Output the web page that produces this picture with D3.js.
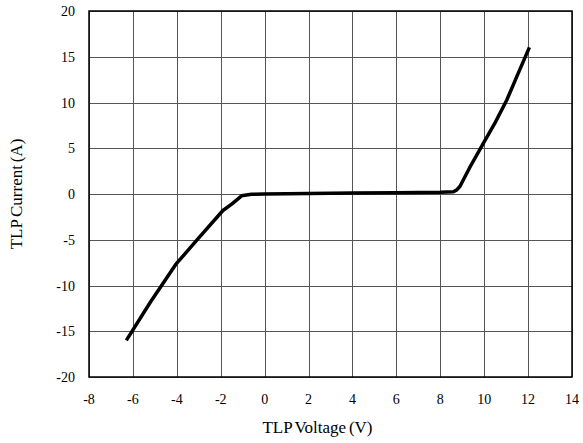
<!DOCTYPE html>
<html>
<head>
<meta charset="utf-8">
<script src="https://cdn.jsdelivr.net/npm/d3@7"></script>
<style>
body { margin: 0; background: #fff; }
</style>
</head>
<body>
<div id="chart"></div>
<script>
// TLP I-V curve
const voltage = [-6.3, -5.2, -4.05, -3.0, -1.9, -1.5, -1.05, -0.6, 0, 2, 4, 6, 8, 8.6, 8.75, 8.9, 9.36, 9.96, 10.5, 11.03, 11.48, 12.06];
const current = [-16, -11.8, -7.7, -4.8, -1.8, -1.1, -0.2, -0.03, 0, 0.05, 0.1, 0.15, 0.2, 0.25, 0.45, 0.85, 2.98, 5.54, 7.8, 10.27, 12.8, 16.03];
const xTicks = [-8, -6, -4, -2, 0, 2, 4, 6, 8, 10, 12, 14];
const yTicks = [-20, -15, -10, -5, 0, 5, 10, 15, 20];

const width = 583;
const height = 443;
const margin = { top: 11, right: 11, bottom: 66, left: 89 };

const svg = d3.select('#chart')
    .append('svg')
    .attr('width', width)
    .attr('height', height);

const x = d3.scaleLinear().domain([-8, 14]).range([margin.left, width - margin.right]);
const y = d3.scaleLinear().domain([-20, 20]).range([height - margin.bottom, margin.top]);

// grid
svg.append('g')
    .selectAll('line')
    .data(xTicks)
    .join('line')
    .attr('x1', d => Math.round(x(d)) + 0.5)
    .attr('x2', d => Math.round(x(d)) + 0.5)
    .attr('y1', y(-20))
    .attr('y2', y(20))
    .style('stroke', '#555')
    .style('stroke-width', 1);

svg.append('g')
    .selectAll('line')
    .data(yTicks)
    .join('line')
    .attr('y1', d => Math.round(y(d)) + 0.5)
    .attr('y2', d => Math.round(y(d)) + 0.5)
    .attr('x1', x(-8))
    .attr('x2', x(14))
    .style('stroke', '#555')
    .style('stroke-width', 1);

// frame
svg.append('rect')
    .attr('x', x(-8))
    .attr('y', y(20))
    .attr('width', x(14) - x(-8))
    .attr('height', y(-20) - y(20))
    .style('fill', 'none')
    .style('stroke', '#000')
    .style('stroke-width', 1.5);

// tick labels
svg.append('g')
    .selectAll('text')
    .data(yTicks)
    .join('text')
    .attr('x', x(-8) - 14)
    .attr('y', d => y(d) + 5)
    .attr('text-anchor', 'end')
    .style('font-family', 'Liberation Serif')
    .style('font-size', '14px')
    .text(d => d);

svg.append('g')
    .selectAll('text')
    .data(xTicks)
    .join('text')
    .attr('x', d => x(d))
    .attr('y', y(-20) + 27)
    .attr('text-anchor', 'middle')
    .style('font-family', 'Liberation Serif')
    .style('font-size', '14px')
    .text(d => d);

// axis titles
svg.append('text')
    .attr('x', (x(-8) + x(14)) / 2 - 13)
    .attr('y', 433)
    .attr('text-anchor', 'middle')
    .style('font-family', 'Liberation Serif')
    .style('font-size', '17px')
    .style('word-spacing', '-1.5px')
    .text('TLP Voltage (V)');

svg.append('text')
    .attr('transform', 'translate(22,' + ((y(-20) + y(20)) / 2) + ')rotate(-90)')
    .attr('text-anchor', 'middle')
    .style('font-family', 'Liberation Serif')
    .style('font-size', '17px')
    .style('word-spacing', '-1.5px')
    .text('TLP Current (A)');

// curve
const pts = voltage.map((v, i) => [v, current[i]]);
const line = d3.line()
    .x(d => x(d[0]))
    .y(d => y(d[1]))
    .curve(d3.curveLinear);

svg.append('path')
    .datum(pts)
    .attr('d', line)
    .style('fill', 'none')
    .style('stroke', '#000')
    .style('stroke-width', 3.5)
    .style('stroke-linejoin', 'round');
</script>
</body>
</html>
